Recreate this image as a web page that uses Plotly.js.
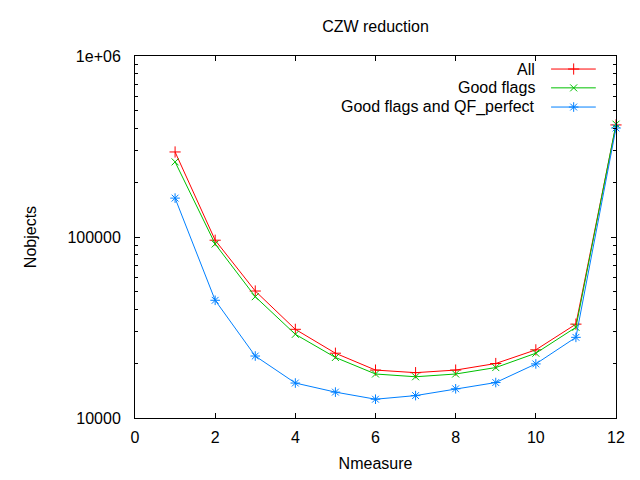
<!DOCTYPE html>
<html>
<head>
<meta charset="utf-8">
<script src="https://cdn.plot.ly/plotly-3.0.1.min.js"></script>
<style>
  body { margin: 0; }
  #graphic { width: 640px; height: 480px; }
</style>
</head>
<body>
<div id="graphic"></div>
<script>
// values
var nmeasure = [1, 2, 3, 4, 5, 6, 7, 8, 9, 10, 11, 12];
var allObjects = [295000, 96000, 50300, 30900, 22800, 18400, 17800, 18400, 20000, 23800, 33000, 416000];
var goodFlags = [260000, 91500, 46800, 29000, 21600, 17500, 16900, 17500, 19000, 22800, 31700, 420000];
var goodFlagsQF = [164000, 44700, 22000, 15600, 13900, 12700, 13300, 14500, 15700, 19900, 27900, 400000];

var seriesNames = ["All", "Good flags", "Good flags and QF_perfect"];
var seriesColors = ["#ff0000", "#00c000", "#0080ff"];
var seriesSymbols = ["cross-thin-open", "x-thin-open", "asterisk-open"];
var seriesSizes = [8, 7, 8];

var yTickVals = [10000, 100000, 1000000];
var yTickText = ["10000", "100000", "1e+06"];

var font = "Liberation Sans, Arial, sans-serif";
var seriesValues = [allObjects, goodFlags, goodFlagsQF];

function markerFor(i) {
    return { symbol: seriesSymbols[i], size: seriesSizes[i], color: seriesColors[i],
             line: { color: seriesColors[i], width: 1 } };
}

var data = seriesValues.map(function (vals, i) {
    return {
        x: nmeasure,
        y: vals,
        type: 'scatter',
        mode: 'lines+markers',
        name: seriesNames[i],
        line: { color: seriesColors[i], width: 1 },
        marker: markerFor(i),
        cliponaxis: false,
        showlegend: false
    };
});

// gnuplot-style key: text on the left, sample on the right
var keyRows = [0.964, 0.912, 0.859];
var annotations = [];
var shapes = [];
keyRows.forEach(function (ky, i) {
    annotations.push({
        xref: 'paper', yref: 'paper', x: 0.836, y: ky,
        xanchor: 'right', yanchor: 'middle', showarrow: false,
        text: seriesNames[i], font: { family: font, size: 16, color: '#000' }
    });
    shapes.push({
        type: 'line', xref: 'paper', yref: 'paper',
        x0: 0.865, x1: 0.958, y0: ky, y1: ky,
        line: { color: seriesColors[i], width: 1 }
    });
    data.push({
        x: [0.912], y: [ky], xaxis: 'x2', yaxis: 'y2',
        type: 'scatter', mode: 'markers', showlegend: false, hoverinfo: 'skip',
        marker: markerFor(i)
    });
});

var layout = {
    width: 640,
    height: 480,
    margin: { l: 135, r: 24, t: 56, b: 62 },
    paper_bgcolor: '#fff',
    plot_bgcolor: '#fff',
    font: { family: font, size: 16, color: '#000' },
    title: {
        text: 'CZW reduction',
        font: { family: font, size: 16 },
        x: 0.5, xref: 'paper', xanchor: 'center',
        y: 1 - 26 / 480, yref: 'container', yanchor: 'middle'
    },
    xaxis: {
        range: [0, 12],
        dtick: 2,
        ticks: 'inside',
        ticklen: 5,
        tickcolor: '#000',
        showline: true,
        linecolor: '#000',
        linewidth: 1,
        mirror: 'ticks',
        showgrid: false,
        zeroline: false,
        ticklabelstandoff: 5,
        tickfont: { size: 16 },
        title: { text: 'Nmeasure', standoff: 12, font: { size: 16 } }
    },
    yaxis: {
        type: 'log',
        range: [4, 6],
        tickvals: yTickVals,
        ticktext: yTickText,
        ticks: 'inside',
        ticklen: 5,
        tickcolor: '#000',
        minor: { ticks: 'inside', ticklen: 3, tickcolor: '#000', dtick: 'D1', showgrid: false },
        showline: true,
        linecolor: '#000',
        linewidth: 1,
        mirror: 'ticks',
        showgrid: false,
        zeroline: false,
        ticklabelstandoff: 10,
        tickfont: { size: 16 },
        title: { text: 'Nobjects', standoff: 26, font: { size: 16 } }
    },
    xaxis2: { overlaying: 'x', range: [0, 1], visible: false, fixedrange: true },
    yaxis2: { overlaying: 'y', range: [0, 1], visible: false, fixedrange: true },
    annotations: annotations,
    shapes: shapes,
    showlegend: false
};

Plotly.newPlot(document.getElementById("graphic"), data, layout, { displayModeBar: false, staticPlot: true });
</script>
</body>
</html>
